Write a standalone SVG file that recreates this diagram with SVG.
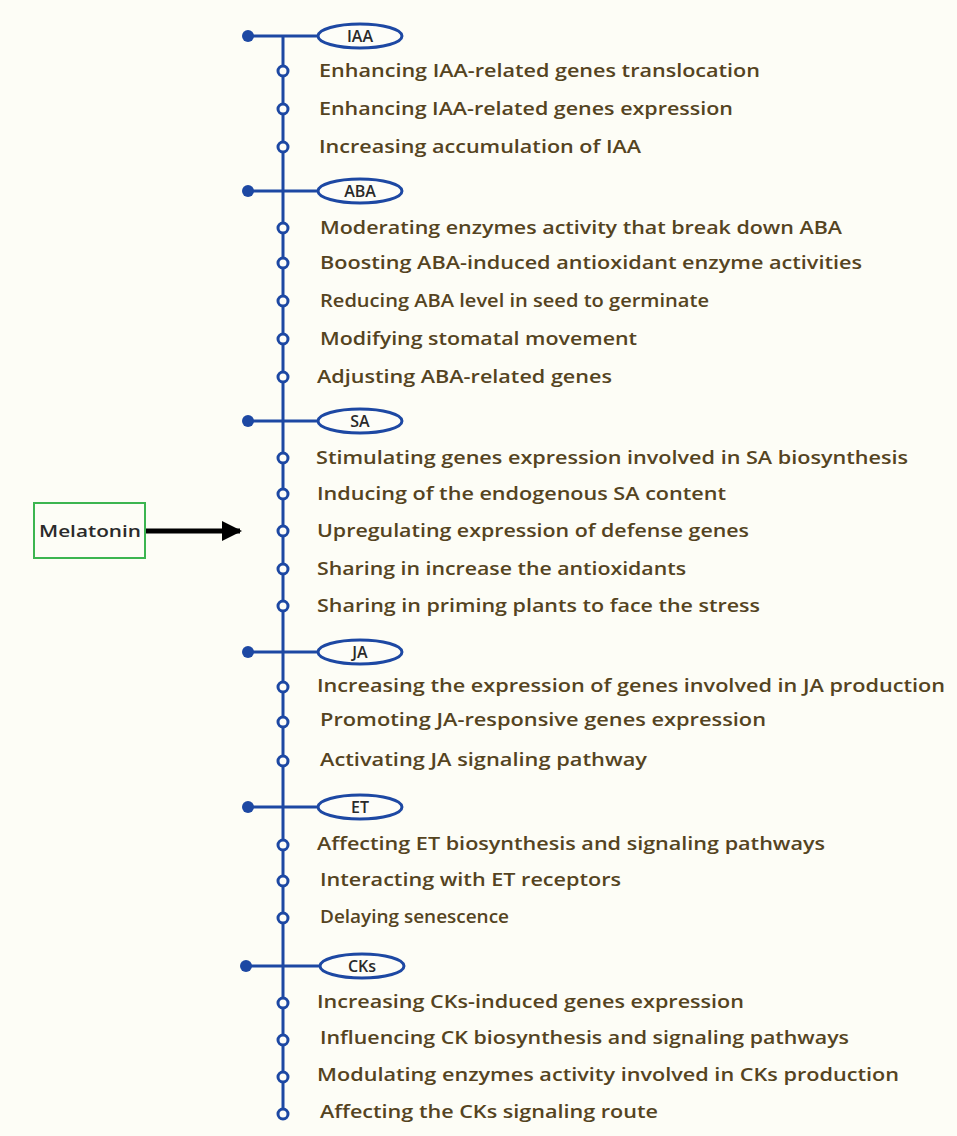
<svg xmlns="http://www.w3.org/2000/svg" width="957" height="1136" viewBox="0 0 957 1136">
<style>
.t{font-family:"Open Sans","DejaVu Sans",sans-serif;font-size:18px;font-weight:600;fill:#55441f}
.h{font-family:"Open Sans","DejaVu Sans",sans-serif;font-size:16px;font-weight:600;fill:#2a2a2a;text-anchor:middle}
.ln{stroke:#1d48a3;stroke-width:3;fill:none}
.ell{stroke:#1d48a3;stroke-width:3;fill:#fdfdf8}
.oc{stroke:#1d48a3;stroke-width:3;fill:#fdfdf8}
.fd{fill:#1d48a3}
</style>
<defs>
<marker id="ah" viewBox="0 0 10 10" refX="9" refY="5" markerWidth="4" markerHeight="4.5" orient="auto" markerUnits="strokeWidth">
<path d="M0,0 L10,5 L0,10 z" fill="#000"/>
</marker>
</defs>
<rect width="957" height="1136" fill="#fdfdf6"/>
<g id="connectors">
<line class="ln" x1="283" y1="36" x2="283" y2="1113"/>
<line x1="145" y1="531" x2="240" y2="531" stroke="#000" stroke-width="5" marker-end="url(#ah)"/>
</g>
<g id="melatonin">
<rect x="34" y="503" width="111" height="55" fill="none" stroke="#3cb550" stroke-width="2"/>
<text class="h" x="90" y="537" textLength="102" lengthAdjust="spacingAndGlyphs">Melatonin</text>
</g>
<g id="IAA">
<line class="ln" x1="247" y1="36" x2="318" y2="36"/><circle class="fd" cx="248" cy="36" r="6"/>
<ellipse class="ell" cx="360" cy="36" rx="42" ry="12"/><text class="h" x="360" y="42">IAA</text>
<circle class="oc" cx="283" cy="71" r="5"/><text class="t" x="319" y="77" textLength="441" lengthAdjust="spacingAndGlyphs">Enhancing IAA-related genes translocation</text>
<circle class="oc" cx="283" cy="109" r="5"/><text class="t" x="319" y="115" textLength="414" lengthAdjust="spacingAndGlyphs">Enhancing IAA-related genes expression</text>
<circle class="oc" cx="283" cy="147" r="5"/><text class="t" x="319" y="153" textLength="322" lengthAdjust="spacingAndGlyphs">Increasing accumulation of IAA</text>
</g>
<g id="ABA">
<line class="ln" x1="247" y1="191" x2="318" y2="191"/><circle class="fd" cx="248" cy="191" r="6"/>
<ellipse class="ell" cx="360" cy="191" rx="42" ry="12"/><text class="h" x="360" y="197">ABA</text>
<circle class="oc" cx="283" cy="228" r="5"/><text class="t" x="320" y="234" textLength="522" lengthAdjust="spacingAndGlyphs">Moderating enzymes activity that break down ABA</text>
<circle class="oc" cx="283" cy="263" r="5"/><text class="t" x="320" y="269" textLength="542" lengthAdjust="spacingAndGlyphs">Boosting ABA-induced antioxidant enzyme activities</text>
<circle class="oc" cx="283" cy="301" r="5"/><text class="t" x="320" y="307" textLength="389" lengthAdjust="spacingAndGlyphs">Reducing ABA level in seed to germinate</text>
<circle class="oc" cx="283" cy="339" r="5"/><text class="t" x="320" y="345" textLength="317" lengthAdjust="spacingAndGlyphs">Modifying stomatal movement</text>
<circle class="oc" cx="283" cy="377" r="5"/><text class="t" x="317" y="383" textLength="295" lengthAdjust="spacingAndGlyphs">Adjusting ABA-related genes</text>
</g>
<g id="SA">
<line class="ln" x1="247" y1="421" x2="318" y2="421"/><circle class="fd" cx="248" cy="421" r="6"/>
<ellipse class="ell" cx="360" cy="421" rx="42" ry="12"/><text class="h" x="360" y="427">SA</text>
<circle class="oc" cx="283" cy="458" r="5"/><text class="t" x="316" y="464" textLength="592" lengthAdjust="spacingAndGlyphs">Stimulating genes expression involved in SA biosynthesis</text>
<circle class="oc" cx="283" cy="494" r="5"/><text class="t" x="317" y="500" textLength="409" lengthAdjust="spacingAndGlyphs">Inducing of the endogenous SA content</text>
<circle class="oc" cx="283" cy="531" r="5"/><text class="t" x="317" y="537" textLength="432" lengthAdjust="spacingAndGlyphs">Upregulating expression of defense genes</text>
<circle class="oc" cx="283" cy="569" r="5"/><text class="t" x="317" y="575" textLength="369" lengthAdjust="spacingAndGlyphs">Sharing in increase the antioxidants</text>
<circle class="oc" cx="283" cy="606" r="5"/><text class="t" x="317" y="612" textLength="443" lengthAdjust="spacingAndGlyphs">Sharing in priming plants to face the stress</text>
</g>
<g id="JA">
<line class="ln" x1="247" y1="652" x2="318" y2="652"/><circle class="fd" cx="248" cy="652" r="6"/>
<ellipse class="ell" cx="360" cy="652" rx="42" ry="12"/><text class="h" x="360" y="658">JA</text>
<circle class="oc" cx="283" cy="687" r="5"/><text class="t" x="317" y="692" textLength="628" lengthAdjust="spacingAndGlyphs">Increasing the expression of genes involved in JA production</text>
<circle class="oc" cx="283" cy="722" r="5"/><text class="t" x="320" y="726" textLength="446" lengthAdjust="spacingAndGlyphs">Promoting JA-responsive genes expression</text>
<circle class="oc" cx="283" cy="761" r="5"/><text class="t" x="320" y="766" textLength="327" lengthAdjust="spacingAndGlyphs">Activating JA signaling pathway</text>
</g>
<g id="ET">
<line class="ln" x1="247" y1="807" x2="318" y2="807"/><circle class="fd" cx="248" cy="807" r="6"/>
<ellipse class="ell" cx="360" cy="807" rx="42" ry="12"/><text class="h" x="360" y="813">ET</text>
<circle class="oc" cx="283" cy="845" r="5"/><text class="t" x="317" y="850" textLength="508" lengthAdjust="spacingAndGlyphs">Affecting ET biosynthesis and signaling pathways</text>
<circle class="oc" cx="283" cy="881" r="5"/><text class="t" x="320" y="886" textLength="301" lengthAdjust="spacingAndGlyphs">Interacting with ET receptors</text>
<circle class="oc" cx="283" cy="918" r="5"/><text class="t" x="320" y="923" textLength="189" lengthAdjust="spacingAndGlyphs">Delaying senescence</text>
</g>
<g id="CKs">
<line class="ln" x1="245" y1="966" x2="320" y2="966"/><circle class="fd" cx="246" cy="966" r="6"/>
<ellipse class="ell" cx="362" cy="966" rx="42" ry="12"/><text class="h" x="362" y="972">CKs</text>
<circle class="oc" cx="283" cy="1003" r="5"/><text class="t" x="317" y="1008" textLength="427" lengthAdjust="spacingAndGlyphs">Increasing CKs-induced genes expression</text>
<circle class="oc" cx="283" cy="1040" r="5"/><text class="t" x="320" y="1044" textLength="529" lengthAdjust="spacingAndGlyphs">Influencing CK biosynthesis and signaling pathways</text>
<circle class="oc" cx="283" cy="1077" r="5"/><text class="t" x="317" y="1081" textLength="582" lengthAdjust="spacingAndGlyphs">Modulating enzymes activity involved in CKs production</text>
<circle class="oc" cx="283" cy="1114" r="5"/><text class="t" x="320" y="1118" textLength="338" lengthAdjust="spacingAndGlyphs">Affecting the CKs signaling route</text>
</g>
</svg>
